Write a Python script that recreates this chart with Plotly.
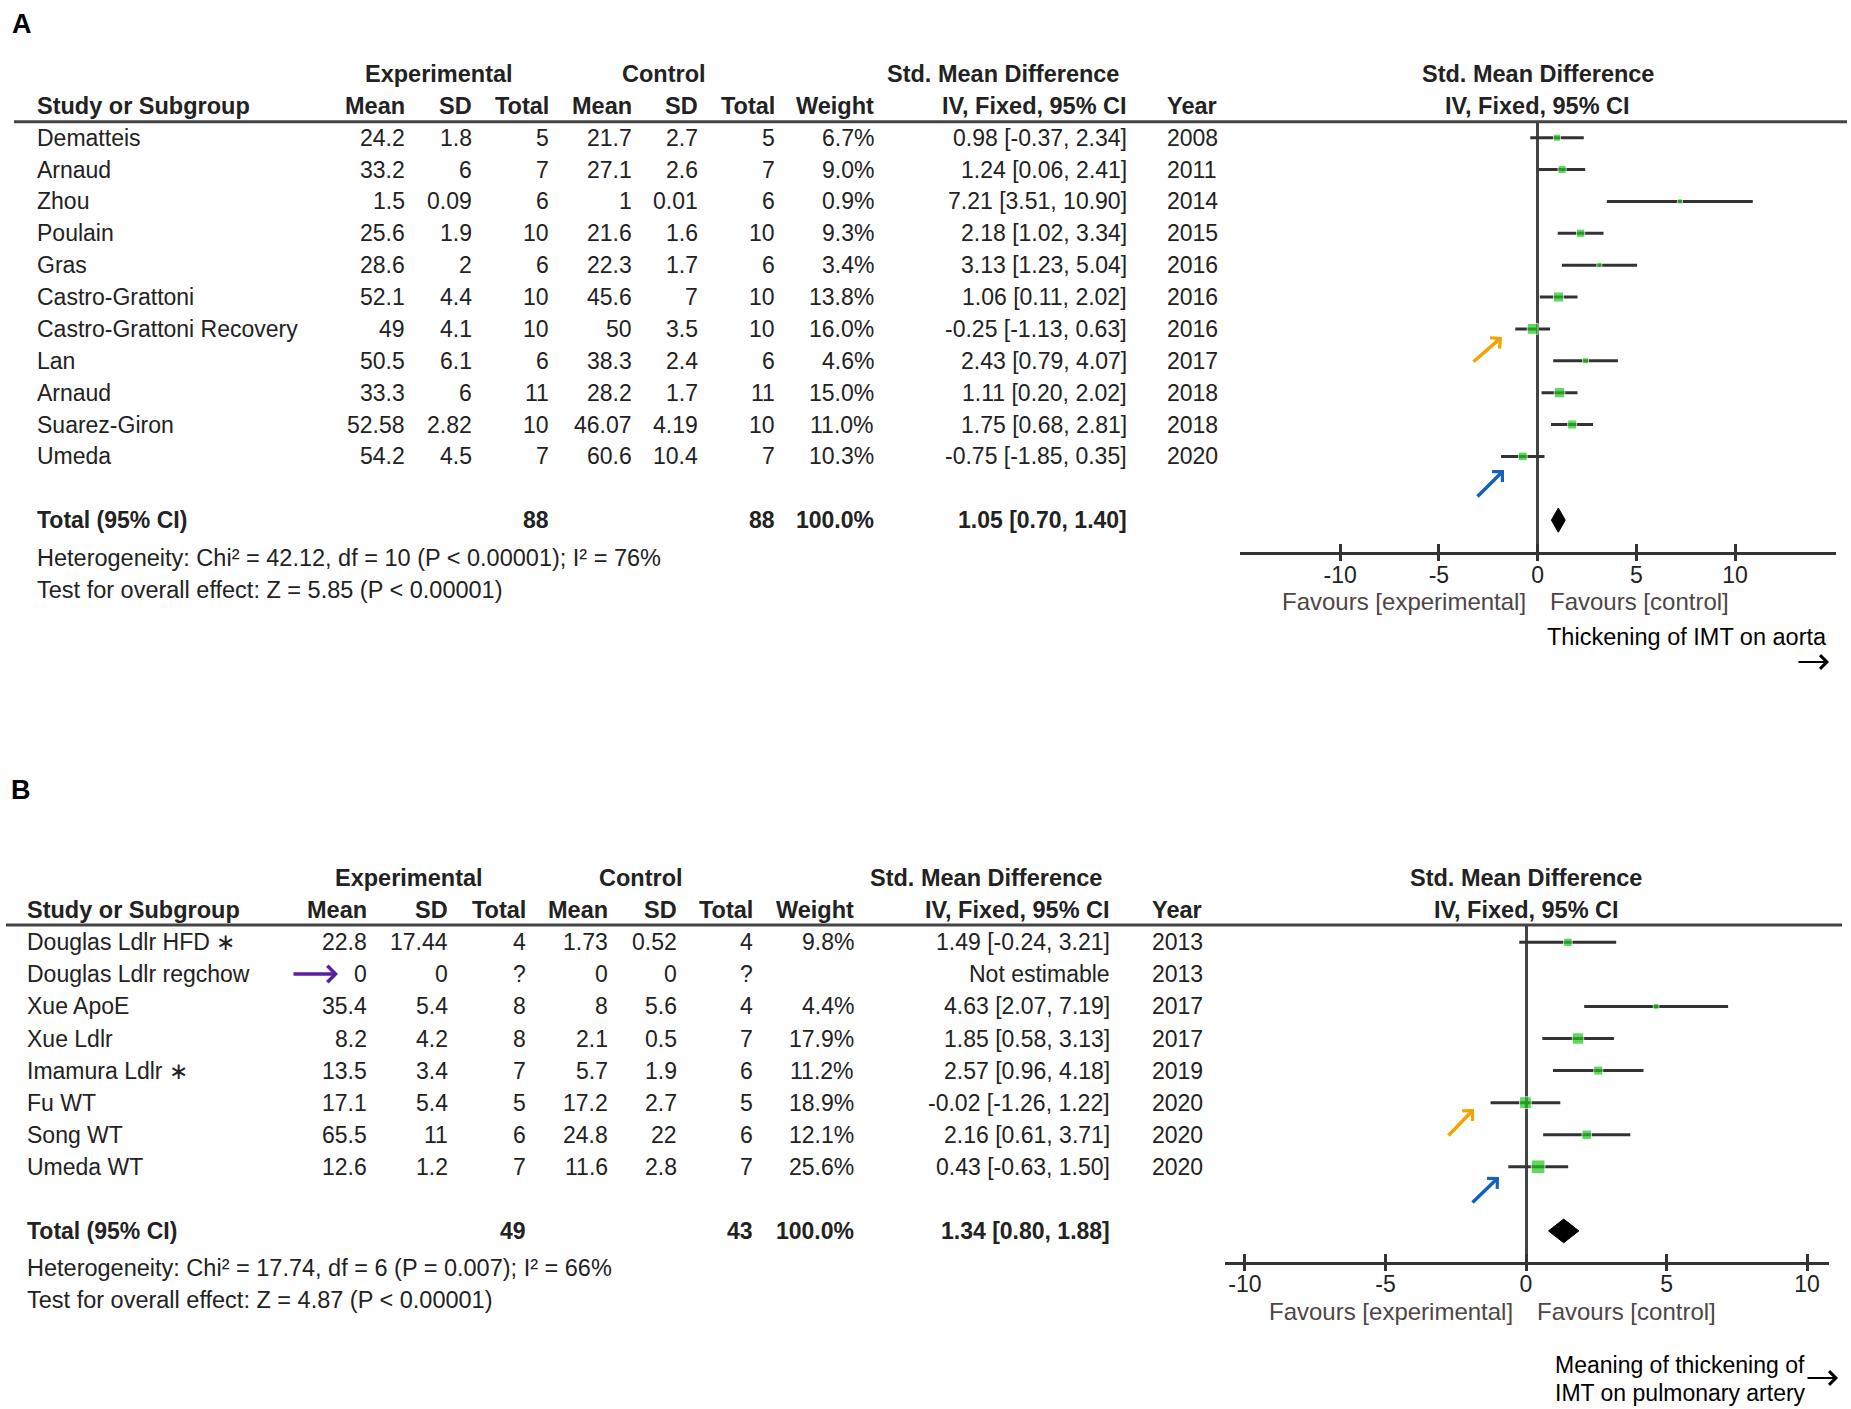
import math
import plotly.graph_objects as go

W, H = 1851, 1409
FONT = "Liberation Sans, Arial, sans-serif"
INK = "#222222"
GREEN = "#1ec81e"

# ---- panel A : aorta ----
a_study = ["Dematteis", "Arnaud", "Zhou", "Poulain", "Gras", "Castro-Grattoni",
           "Castro-Grattoni Recovery", "Lan", "Arnaud", "Suarez-Giron", "Umeda"]
a_exp_mean = [24.2, 33.2, 1.5, 25.6, 28.6, 52.1, 49, 50.5, 33.3, 52.58, 54.2]
a_exp_sd = [1.8, 6, 0.09, 1.9, 2, 4.4, 4.1, 6.1, 6, 2.82, 4.5]
a_exp_n = [5, 7, 6, 10, 6, 10, 10, 6, 11, 10, 7]
a_ctl_mean = [21.7, 27.1, 1, 21.6, 22.3, 45.6, 50, 38.3, 28.2, 46.07, 60.6]
a_ctl_sd = [2.7, 2.6, 0.01, 1.6, 1.7, 7, 3.5, 2.4, 1.7, 4.19, 10.4]
a_ctl_n = [5, 7, 6, 10, 6, 10, 10, 6, 11, 10, 7]
a_weight = [6.7, 9.0, 0.9, 9.3, 3.4, 13.8, 16.0, 4.6, 15.0, 11.0, 10.3]
a_smd = [0.98, 1.24, 7.21, 2.18, 3.13, 1.06, -0.25, 2.43, 1.11, 1.75, -0.75]
a_lo = [-0.37, 0.06, 3.51, 1.02, 1.23, 0.11, -1.13, 0.79, 0.20, 0.68, -1.85]
a_hi = [2.34, 2.41, 10.90, 3.34, 5.04, 2.02, 0.63, 4.07, 2.02, 2.81, 0.35]
a_year = [2008, 2011, 2014, 2015, 2016, 2016, 2016, 2017, 2018, 2018, 2020]
a_total_n = [88, 88]
a_total_ci = [1.05, 0.70, 1.40]
a_het = "Heterogeneity: Chi² = 42.12, df = 10 (P < 0.00001); I² = 76%"
a_test = "Test for overall effect: Z = 5.85 (P < 0.00001)"

# ---- panel B : pulmonary artery ----
b_study = ["Douglas Ldlr HFD ∗", "Douglas Ldlr regchow", "Xue ApoE", "Xue Ldlr",
           "Imamura Ldlr ∗", "Fu WT", "Song WT", "Umeda WT"]
b_exp_mean = [22.8, 0, 35.4, 8.2, 13.5, 17.1, 65.5, 12.6]
b_exp_sd = [17.44, 0, 5.4, 4.2, 3.4, 5.4, 11, 1.2]
b_exp_n = [4, None, 8, 8, 7, 5, 6, 7]
b_ctl_mean = [1.73, 0, 8, 2.1, 5.7, 17.2, 24.8, 11.6]
b_ctl_sd = [0.52, 0, 5.6, 0.5, 1.9, 2.7, 22, 2.8]
b_ctl_n = [4, None, 4, 7, 6, 5, 6, 7]
b_weight = [9.8, None, 4.4, 17.9, 11.2, 18.9, 12.1, 25.6]
b_smd = [1.49, None, 4.63, 1.85, 2.57, -0.02, 2.16, 0.43]
b_lo = [-0.24, None, 2.07, 0.58, 0.96, -1.26, 0.61, -0.63]
b_hi = [3.21, None, 7.19, 3.13, 4.18, 1.22, 3.71, 1.50]
b_year = [2013, 2013, 2017, 2017, 2019, 2020, 2020, 2020]
b_total_n = [49, 43]
b_total_ci = [1.34, 0.80, 1.88]
b_het = "Heterogeneity: Chi² = 17.74, df = 6 (P = 0.007); I² = 66%"
b_test = "Test for overall effect: Z = 4.87 (P < 0.00001)"

tick_vals = [-10, -5, 0, 5, 10]
tick_text = ["-10", "-5", "0", "5", "10"]


def fx(p):
    return p / W


def fy(p):
    return 1 - p / H


def txt(fig, x, y, s, anchor="left", bold=False, size=23, color=INK, yref="paper"):
    fig.add_annotation(x=fx(x), y=fy(y) if yref == "paper" else y, xref="paper", yref=yref,
                       text="<b>%s</b>" % s if bold else s, showarrow=False,
                       xanchor=anchor, yanchor="middle", font=dict(size=size, color=color))


def arrow(fig, tail, head, color, width=3.5, size=0.8):
    fig.add_annotation(x=fx(head[0]), y=fy(head[1]), xref="paper", yref="paper",
                       ax=tail[0] - head[0], ay=tail[1] - head[1], text="", showarrow=True,
                       arrowhead=4, arrowsize=size, arrowwidth=width, arrowcolor=color)


def fmt(v):
    return "?" if v is None else str(v)


def panel(fig, d, g):
    xn, yn, tn = g["axes"]
    yref = "y" + yn[5:] if len(yn) > 5 else "y"
    xref = "x" + xn[5:] if len(xn) > 5 else "x"
    tref = "x" + tn[5:]

    # table header
    for label, cx in zip(["Experimental", "Control", "Std. Mean Difference", "Std. Mean Difference"],
                         g["groups"]):
        txt(fig, cx, g["head"][0], label, anchor="center", bold=True, size=23.5)
    txt(fig, g["cols"][0], g["head"][1], "Study or Subgroup", bold=True, size=23.5)
    for label, cx in zip(["Mean", "SD", "Total", "Mean", "SD", "Total", "Weight", "IV, Fixed, 95% CI"],
                         g["cols"][1:9]):
        txt(fig, cx, g["head"][1], label, anchor="right", bold=True, size=23.5)
    txt(fig, g["cols"][9], g["head"][1], "Year", bold=True, size=23.5)
    txt(fig, g["groups"][3], g["head"][1], "IV, Fixed, 95% CI", anchor="center", bold=True, size=23.5)
    fig.add_shape(type="line", xref="paper", yref="paper", x0=fx(g["rule"][0]), x1=fx(g["rule"][1]),
                  y0=fy(g["rule"][2]), y1=fy(g["rule"][2]), line=dict(color="#444", width=3))

    # study rows
    for i, name in enumerate(d["study"]):
        txt(fig, g["cols"][0], i, name, yref=yref)
        vals = [d["em"][i], d["es"][i], d["en"][i], d["cm"][i], d["cs"][i], d["cn"][i]]
        for v, cx in zip(vals, g["cols"][1:7]):
            txt(fig, cx, i, fmt(v), anchor="right", yref=yref)
        if d["w"][i] is not None:
            txt(fig, g["cols"][7], i, "%.1f%%" % d["w"][i], anchor="right", yref=yref)
            ci = "%.2f [%.2f, %.2f]" % (d["smd"][i], d["lo"][i], d["hi"][i])
        else:
            ci = "Not estimable"
        txt(fig, g["cols"][8], i, ci, anchor="right", yref=yref)
        txt(fig, g["cols"][9], i, str(d["year"][i]), yref=yref)

    # total row
    tr = g["total_row"]
    txt(fig, g["cols"][0], tr, "Total (95% CI)", bold=True, yref=yref)
    txt(fig, g["cols"][3], tr, str(d["tn"][0]), anchor="right", bold=True, yref=yref)
    txt(fig, g["cols"][6], tr, str(d["tn"][1]), anchor="right", bold=True, yref=yref)
    txt(fig, g["cols"][7], tr, "100.0%", anchor="right", bold=True, yref=yref)
    txt(fig, g["cols"][8], tr, "%.2f [%.2f, %.2f]" % tuple(d["tci"]), anchor="right", bold=True, yref=yref)
    txt(fig, g["cols"][0], g["foot"][0], d["het"], size=23.5)
    txt(fig, g["cols"][0], g["foot"][1], d["test"], size=23.5)

    # confidence intervals
    xs, ys = [], []
    for i in range(len(d["study"])):
        if d["smd"][i] is None:
            continue
        xs += [d["lo"][i], d["hi"][i], None]
        ys += [i, i, None]
    fig.add_trace(go.Scatter(x=xs, y=ys, mode="lines", line=dict(color="#333", width=3),
                             xaxis=xref, yaxis=yref, hoverinfo="skip", showlegend=False))
    idx = [i for i in range(len(d["study"])) if d["smd"][i] is not None]
    fig.add_trace(go.Scatter(x=[d["smd"][i] for i in idx], y=idx, mode="markers",
                             marker=dict(symbol="square", color=GREEN,
                                         size=[max(5, 2.7 * math.sqrt(d["w"][i])) for i in idx]),
                             xaxis=xref, yaxis=yref, showlegend=False))
    est, lo, hi = d["tci"]
    h = g["diamond_h"]
    fig.add_trace(go.Scatter(x=[lo, est, hi, est, lo], y=[tr, tr - h, tr, tr + h, tr],
                             mode="lines", fill="toself", fillcolor="black",
                             line=dict(color="black", width=1),
                             xaxis=xref, yaxis=yref, hoverinfo="skip", showlegend=False))
    fig.add_trace(go.Scatter(x=[], y=[], xaxis=tref, yaxis=yref, showlegend=False))

    dom_x = [fx(g["plot_x"][0]), fx(g["plot_x"][1])]
    fig.update_layout({
        # labelled axis carries the upper half of each tick, the overlay the lower half
        xn: dict(domain=dom_x, range=g["xr"], anchor=yref, showgrid=False,
                 zeroline=True, zerolinecolor="#444", zerolinewidth=2.5,
                 showline=True, linecolor="#333", linewidth=3,
                 ticks="inside", ticklen=8, tickwidth=3, tickcolor="#333",
                 tickvals=tick_vals, ticktext=tick_text,
                 tickfont=dict(size=23, color=INK)),
        tn: dict(overlaying=xref, anchor=yref, range=g["xr"], showgrid=False, zeroline=False,
                 showline=False, ticks="outside", ticklen=8, tickwidth=3, tickcolor="#333",
                 tickvals=tick_vals, showticklabels=False),
        yn: dict(domain=[fy(g["plot_y"][1]), fy(g["plot_y"][0])], range=g["yr"],
                 anchor=xref, visible=False, showgrid=False, zeroline=False),
    })

    # favours labels
    fav_y, fav_r, fav_l = g["favours"]
    txt(fig, fav_r, fav_y, "Favours [experimental]", anchor="right", size=24, color="#4f4545")
    txt(fig, fav_l, fav_y, "Favours [control]", size=24, color="#4f4545")


fig = go.Figure()

panel(fig,
      dict(study=a_study, em=a_exp_mean, es=a_exp_sd, en=a_exp_n, cm=a_ctl_mean, cs=a_ctl_sd,
           cn=a_ctl_n, w=a_weight, smd=a_smd, lo=a_lo, hi=a_hi, year=a_year,
           tn=a_total_n, tci=a_total_ci, het=a_het, test=a_test),
      dict(axes=("xaxis", "yaxis", "xaxis3"),
           cols=[35, 407, 474, 551, 633.5, 700, 776.6, 876, 1128.5, 1164.5],
           groups=[439, 663.5, 1003, 1537.5], head=[74.4, 106], rule=[14, 1847, 121.7],
           total_row=12, foot=[558, 590], diamond_h=0.38,
           plot_x=[1239.5, 1835.7], plot_y=[121.7, 552], xr=[-15.1, 15.1], yr=[13.0, -0.5],
           favours=(601.5, 1528, 1548)))

panel(fig,
      dict(study=b_study, em=b_exp_mean, es=b_exp_sd, en=b_exp_n, cm=b_ctl_mean, cs=b_ctl_sd,
           cn=b_ctl_n, w=b_weight, smd=b_smd, lo=b_lo, hi=b_hi, year=b_year,
           tn=b_total_n, tci=b_total_ci, het=b_het, test=b_test),
      dict(axes=("xaxis2", "yaxis2", "xaxis4"),
           cols=[24.5, 369, 450, 528, 610, 678.6, 755, 855.5, 1111.7, 1150],
           groups=[409, 641, 985.5, 1526], head=[877.5, 909.5], rule=[6, 1842, 925],
           total_row=9, foot=[1268, 1300], diamond_h=0.37,
           plot_x=[1224.7, 1829], plot_y=[925, 1261.7], xr=[-10.72, 10.78], yr=[9.96, -0.54],
           favours=(1311, 1515, 1535)))

# panel letters and footnotes
txt(fig, 10, 24, "A", bold=True, size=27, color="black")
txt(fig, 9, 790, "B", bold=True, size=27, color="black")
txt(fig, 1829, 637, "Thickening of IMT on aorta", anchor="right", size=23.5, color="black")
arrow(fig, (1797, 662), (1829, 662), "black", width=2.2, size=1.2)
txt(fig, 1553, 1365, "Meaning of thickening of", size=23, color="black")
txt(fig, 1553, 1393, "IMT on pulmonary artery", size=23, color="black")
arrow(fig, (1806, 1378), (1838, 1378), "black", width=2.2, size=1.2)

# highlight arrows
arrow(fig, (292, 974), (338, 974), "#5b1f9e", width=3.5, size=0.9)
arrow(fig, (1472, 363), (1502, 337), "#f5a300")
arrow(fig, (1476, 498), (1504, 470), "#1560bd")
arrow(fig, (1447, 1137), (1474, 1109), "#f5a300")
arrow(fig, (1471, 1204), (1499, 1177), "#1560bd")

fig.update_layout(width=W, height=H, margin=dict(l=0, r=0, t=0, b=0),
                  paper_bgcolor="white", plot_bgcolor="white",
                  font=dict(family=FONT, size=23, color=INK), showlegend=False)

fig.write_html("out.html", config={"displayModeBar": False},
               post_script="document.body.style.margin='0';")
